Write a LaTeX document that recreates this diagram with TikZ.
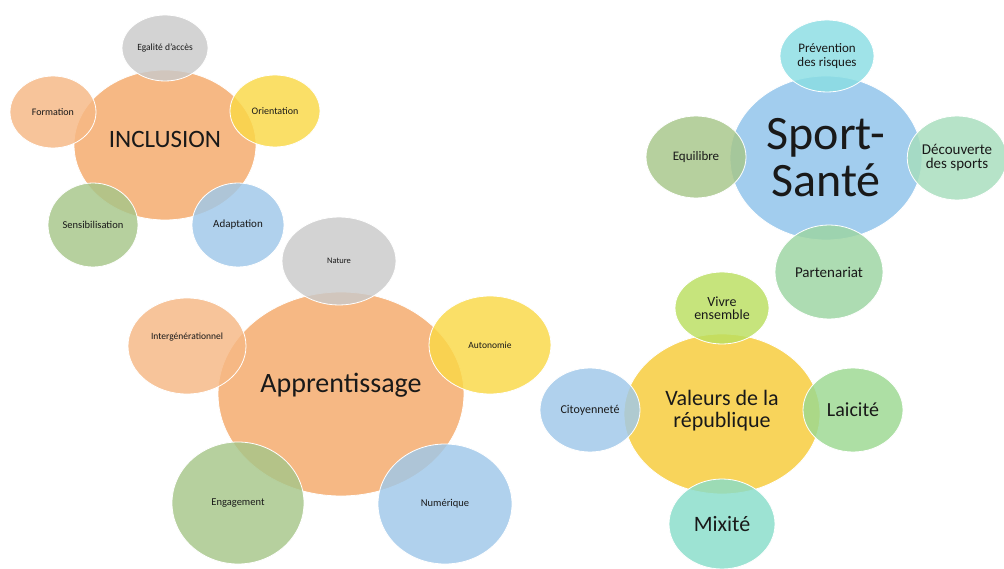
\documentclass[tikz,border=0pt]{standalone}
\usepackage{fontspec}
\setmainfont{Carlito}
\usetikzlibrary{shapes.geometric}
\definecolor{cOrange}{HTML}{F6B884}
\definecolor{cGray}{HTML}{CACACA}
\definecolor{cYellow}{HTML}{FAD846}
\definecolor{cGreen}{HTML}{A6C689}
\definecolor{cBlue}{HTML}{9FC8EA}
\definecolor{cSky}{HTML}{A2CDEE}
\definecolor{cCyan}{HTML}{8ADEE3}
\definecolor{cMint}{HTML}{A6DEBC}
\definecolor{cLeaf}{HTML}{9CD5A2}
\definecolor{cLime}{HTML}{BADF60}
\definecolor{cGold}{HTML}{F8D45B}
\definecolor{cLaic}{HTML}{9BD991}
\definecolor{cTeal}{HTML}{88DDCA}
\newcommand\fsz[2]{\fontsize{#1}{#2}\selectfont}
\tikzset{
  bub/.style={ellipse, inner sep=0pt, align=center, text=black!90, draw=white, line width=0.8pt},
  hub/.style={bub},
  sat/.style={bub, fill opacity=0.82, text opacity=1},
  txt/.style={text=black!90, align=center, inner sep=0pt},
}
\begin{document}
\begin{tikzpicture}[x=1pt,y=-1pt]
\useasboundingbox[fill=white] (0,0) rectangle (1004,569);
% INCLUSION
\node[hub, fill=cOrange, minimum width=182pt, minimum height=150pt,
  label={[txt, font=\fsz{25}{27}, yshift=6pt]center:INCLUSION}] (incl) at (165,145) {};
\node[sat, fill=cGray, minimum width=86pt, minimum height=66pt, font=\fsz{9.5}{10}] (egal) at (165,48) {Egalité d'accès};
\node[sat, fill=cOrange, minimum width=86pt, minimum height=72pt, font=\fsz{10}{11}] (form) at (53,112) {Formation};
\node[sat, fill=cYellow, minimum width=90pt, minimum height=72pt, font=\fsz{10}{11}] (orie) at (275,111) {Orientation};
\node[sat, fill=cGreen, minimum width=90pt, minimum height=84pt, font=\fsz{10.5}{11}] (sens) at (93,225) {Sensibilisation};
\node[sat, fill=cBlue, minimum width=92pt, minimum height=84pt, font=\fsz{11}{12}] (adap) at (238,225) {Adaptation};
% Apprentissage
\node[hub, fill=cOrange, minimum width=246pt, minimum height=204pt,
  label={[txt, font=\fsz{28}{30}, yshift=9pt]center:Apprentissage}] (appr) at (341,394) {};
\node[sat, fill=cGray, minimum width=114pt, minimum height=88pt, font=\fsz{8.5}{9}] (natu) at (339,261) {Nature};
\node[sat, fill=cOrange, minimum width=118pt, minimum height=96pt,
  label={[txt, font=\fsz{9.5}{10}, yshift=9pt]center:Intergénérationnel}] (inter) at (187,346) {};
\node[sat, fill=cYellow, minimum width=122pt, minimum height=98pt, font=\fsz{9.5}{10}] (auto) at (490,345) {Autonomie};
\node[sat, fill=cGreen, minimum width=132pt, minimum height=122pt, font=\fsz{10.5}{11}] (enga) at (238,503) {Engagement};
\node[sat, fill=cBlue, minimum width=134pt, minimum height=120pt, font=\fsz{10.5}{11}] (nume) at (445,504) {Numérique};
% Sport-Sante
\node[hub, fill=cSky, minimum width=192pt, minimum height=164pt, font=\fsz{48}{47}] (sport) at (826,158) {Sport-\\Santé};
\node[sat, fill=cCyan, minimum width=94pt, minimum height=72pt, font=\fsz{13}{13.5}] (prev) at (827,56) {Prévention\\des risques};
\node[sat, fill=cGreen, minimum width=100pt, minimum height=82pt, font=\fsz{13}{14}] (equi) at (696,157) {Equilibre};
\node[sat, fill=cMint, minimum width=96pt, minimum height=84pt, font=\fsz{15}{14}] (deco) at (957,158) {Découverte\\des sports};
\node[sat, fill=cLeaf, minimum width=108pt, minimum height=94pt, font=\fsz{15}{16}] (part) at (829,272) {Partenariat};
% Valeurs
\node[hub, fill=cGold, minimum width=196pt, minimum height=160pt,
  label={[txt, font=\fsz{22}{22}, yshift=3pt]center:Valeurs de la\\république}] (val) at (722,414) {};
\node[sat, fill=cLime, minimum width=94pt, minimum height=72pt, font=\fsz{14}{13.5}] (vivre) at (722,308) {Vivre\\ensemble};
\node[sat, fill=cBlue, minimum width=100pt, minimum height=84pt, font=\fsz{12}{13}] (cito) at (590,410) {Citoyenneté};
\node[sat, fill=cLaic, minimum width=100pt, minimum height=84pt, font=\fsz{20}{22}] (laic) at (853,410) {Laicité};
\node[sat, fill=cTeal, minimum width=106pt, minimum height=90pt, font=\fsz{22}{24}] (mixi) at (722,524) {Mixité};
\end{tikzpicture}
\end{document}
